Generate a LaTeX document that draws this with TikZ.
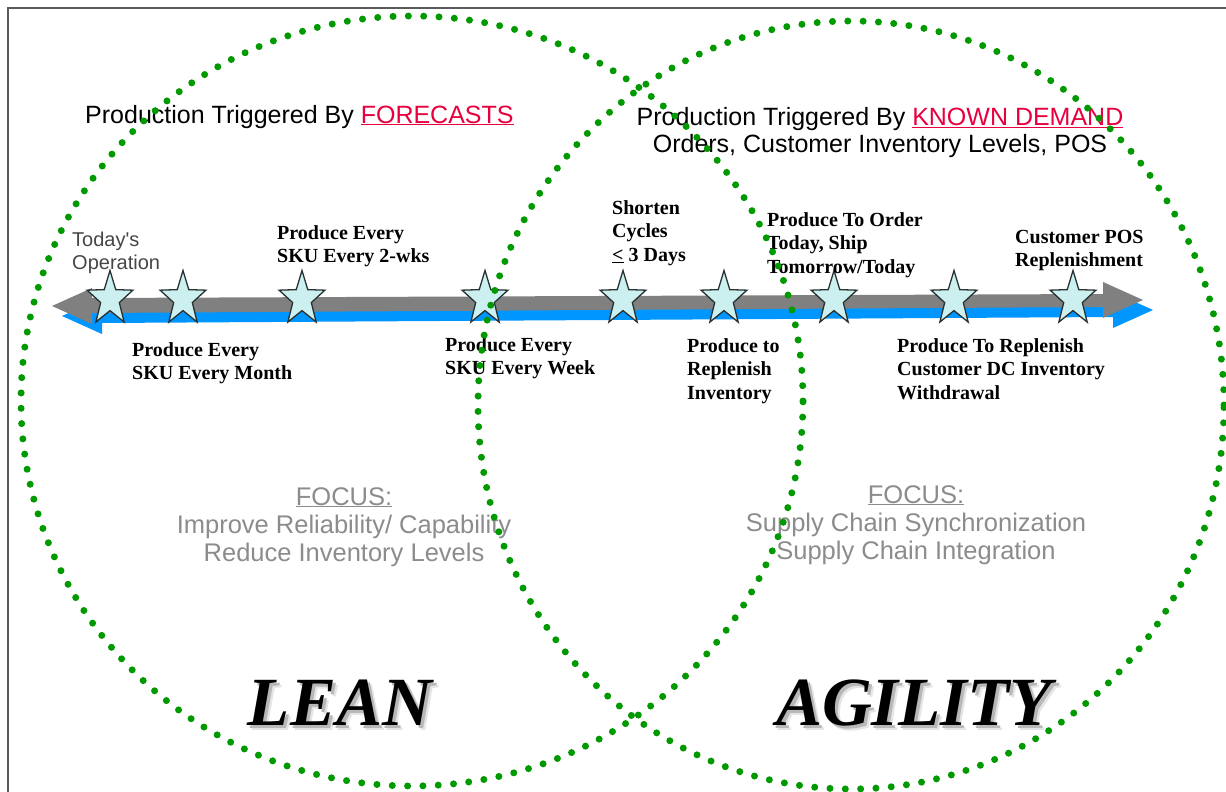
\documentclass[tikz,border=0pt]{standalone}
\usepackage{fontspec}
\setmainfont{Liberation Serif}
\newfontfamily\arialfont{Liberation Sans}

\definecolor{dotgreen}{RGB}{0,153,0}
\definecolor{hotred}{RGB}{232,0,62}
\definecolor{focusgray}{RGB}{140,140,140}
\definecolor{shaftgray}{RGB}{128,128,128}
\definecolor{shaftblue}{RGB}{0,150,255}
\definecolor{starfill}{RGB}{204,240,240}
\definecolor{stardraw}{RGB}{40,50,50}
\definecolor{opgray}{RGB}{70,70,70}
\definecolor{framegray}{RGB}{90,90,90}

% word with a soft drop shadow, set as one piece of text
\newcommand{\shadowword}[1]{%
  \rlap{\kern5pt\raisebox{-5pt}{\textcolor{black!10}{#1}}}%
  \rlap{\kern3pt\raisebox{-3pt}{\textcolor{black!28}{#1}}}#1}

\tikzset{
  venn/.style={draw=dotgreen, line width=7pt, line cap=round,
    dash pattern=on 0pt off 15.33pt},
  steplabel/.style={anchor=north west, inner sep=0pt, align=left,
    font=\bfseries\fontsize{20}{23.5}\selectfont,
    execute at begin node={\rule{0pt}{15pt}}},
  oplabel/.style={anchor=north west, inner sep=0pt, align=left, text=opgray,
    font=\arialfont\fontsize{20}{23}\selectfont,
    execute at begin node={\rule{0pt}{15pt}}},
  heading/.style={inner sep=0pt, align=center,
    font=\arialfont\fontsize{25}{27.5}\selectfont},
  focusblock/.style={anchor=north, inner sep=0pt, align=center, text=focusgray,
    font=\arialfont\fontsize{25.5}{28}\selectfont,
    execute at begin node={\rule{0pt}{20pt}}},
  wordmark/.style={anchor=base, inner sep=0pt,
    font=\bfseries\itshape\fontsize{69}{69}\selectfont},
  pics/fivestar/.style={code={
    \draw[fill=starfill, draw=stardraw, line width=1.3pt, line join=miter, xscale=0.845]
      (-90:28.5) -- (-54:11.6) -- (-18:28.5) -- (18:11.6) -- (54:28.5) -- (90:11.6)
      -- (126:28.5) -- (162:11.6) -- (198:28.5) -- (234:11.6) -- cycle;
  }}
}

\begin{document}
\begin{tikzpicture}[x=1pt, y=-1pt]
  \useasboundingbox (0,0) rectangle (1226,792);
  \clip (0,0) rectangle (1226,792);
  \fill[white] (0,0) rectangle (1226,792);

  % frame
  \draw[framegray, line width=1.5pt] (8,8) rectangle (1240,810);

  % double-headed timeline: blue shadow under the grey arrow
  \foreach \d/\col in {10/shaftblue, 0/shaftgray}
    \fill[\col, shift={(\d,\d)}]
      (52,306) -- (92,288) -- (92,298) -- (1103,294) -- (1103,282) -- (1143,300)
      -- (1103,318) -- (1103,307) -- (92,313) -- (92,324) -- cycle;

  % milestones
  \foreach \x [count=\i] in {110,183,302,485,623,724,834,954,1073}
    \pic (star\i) at (\x,299) {fivestar};

  % headings
  \node[heading, anchor=base west] (forecast) at (85,123)
    {Production Triggered By \textcolor{hotred}{\underline{FORECASTS}}};
  \node[heading, anchor=north, execute at begin node={\rule{0pt}{20pt}}] (demand) at (880,107)
    {Production Triggered By \textcolor{hotred}{\underline{KNOWN DEMAND}}\\
     Orders, Customer Inventory Levels, POS};

  % milestone labels
  \node[oplabel]   (today)  at (72,232)   {Today's\\Operation};
  \node[steplabel] (twowk)  at (277,225)  {Produce Every\\SKU Every 2-wks};
  \node[steplabel] (month)  at (132,342)  {Produce Every\\SKU Every Month};
  \node[steplabel] (week)   at (445,337)  {Produce Every\\SKU Every Week};
  \node[steplabel] (cycle)  at (612,200)  {Shorten\\Cycles\\\underline{<} 3 Days};
  \node[steplabel] (replen) at (687,338)  {Produce to\\Replenish\\Inventory};
  \node[steplabel] (order)  at (767,212)  {Produce To Order\\Today, Ship\\Tomorrow/Today};
  \node[steplabel] (dc)     at (897,338)  {Produce To Replenish\\Customer DC Inventory\\Withdrawal};
  \node[steplabel] (pos)    at (1015,230) {Customer POS\\Replenishment};

  % focus blocks
  \node[focusblock] (leanfocus) at (344,487)
    {\underline{FOCUS:}\\Improve Reliability/ Capability\\Reduce Inventory Levels};
  \node[focusblock] (agilefocus) at (916,485)
    {\underline{FOCUS:}\\Supply Chain Synchronization\\Supply Chain Integration};

  % circle titles
  \node[wordmark] (lean)  at (340,725) {\shadowword{LEAN}};
  \node[wordmark] (agile) at (914,725) {\shadowword{AGILITY}};

  % overlapping dotted circles
  \draw[venn] (412,401) ellipse [x radius=391pt, y radius=385pt];
  \draw[venn] (851,405) ellipse [x radius=373pt, y radius=384pt];
\end{tikzpicture}
\end{document}
